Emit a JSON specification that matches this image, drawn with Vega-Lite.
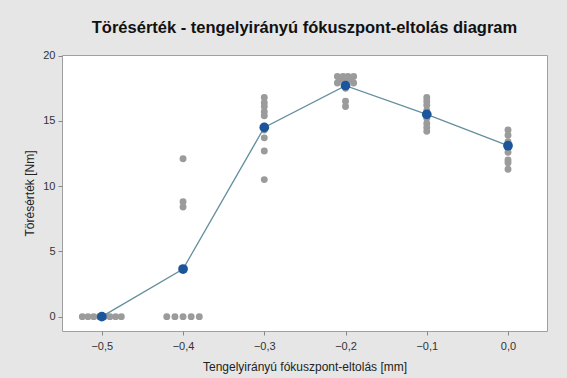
{
  "$schema": "https://vega.github.io/schema/vega-lite/v6.json",
  "width": 485,
  "height": 276,
  "autosize": {"type": "none"},
  "padding": {"left": 62, "top": 55, "right": 20, "bottom": 47},
  "background": "#e6e6e6",
  "title": {
    "text": "Törésérték - tengelyirányú fókuszpont-eltolás diagram",
    "font": "Liberation Sans",
    "fontSize": 16.5,
    "fontWeight": "bold",
    "color": "#111111",
    "anchor": "middle",
    "offset": 13
  },
  "config": {
    "view": {"stroke": "#a0a0a0", "strokeWidth": 1, "fill": "white"},
    "axis": {
      "labelFont": "Liberation Sans",
      "titleFont": "Liberation Sans",
      "labelFontSize": 11,
      "titleFontSize": 12,
      "titleFontWeight": "normal",
      "labelColor": "#333333",
      "titleColor": "#222222",
      "domain": false,
      "grid": false,
      "tickColor": "#888888",
      "tickSize": 4
    }
  },
  "datasets": {
    "pts": [
      {"x": -0.524, "y": 0}, {"x": -0.517, "y": 0}, {"x": -0.510, "y": 0}, {"x": -0.503, "y": 0},
      {"x": -0.497, "y": 0}, {"x": -0.490, "y": 0}, {"x": -0.483, "y": 0}, {"x": -0.476, "y": 0},
      {"x": -0.420, "y": 0}, {"x": -0.410, "y": 0}, {"x": -0.400, "y": 0}, {"x": -0.390, "y": 0}, {"x": -0.380, "y": 0},
      {"x": -0.4, "y": 12.1}, {"x": -0.4, "y": 8.8}, {"x": -0.4, "y": 8.4},
      {"x": -0.3, "y": 16.8}, {"x": -0.3, "y": 16.4}, {"x": -0.3, "y": 16.1}, {"x": -0.3, "y": 15.7},
      {"x": -0.3, "y": 15.4}, {"x": -0.3, "y": 14.6}, {"x": -0.3, "y": 14.3}, {"x": -0.3, "y": 13.7},
      {"x": -0.3, "y": 12.7}, {"x": -0.3, "y": 10.5},
      {"x": -0.210, "y": 18.4}, {"x": -0.203, "y": 18.4}, {"x": -0.197, "y": 18.4}, {"x": -0.190, "y": 18.4},
      {"x": -0.207, "y": 18.15}, {"x": -0.200, "y": 18.15}, {"x": -0.193, "y": 18.15},
      {"x": -0.210, "y": 17.9}, {"x": -0.190, "y": 17.9}, {"x": -0.2, "y": 17.5},
      {"x": -0.2, "y": 16.5}, {"x": -0.2, "y": 16.1},
      {"x": -0.1, "y": 16.8}, {"x": -0.1, "y": 16.5}, {"x": -0.1, "y": 16.2}, {"x": -0.1, "y": 15.8},
      {"x": -0.1, "y": 15.2}, {"x": -0.1, "y": 14.8}, {"x": -0.1, "y": 14.5}, {"x": -0.1, "y": 14.2},
      {"x": 0.0, "y": 14.3}, {"x": 0.0, "y": 13.9}, {"x": 0.0, "y": 13.4}, {"x": 0.0, "y": 12.6},
      {"x": 0.0, "y": 12.0}, {"x": 0.0, "y": 11.8}, {"x": 0.0, "y": 11.3}
    ],
    "means": [
      {"x": -0.5, "y": 0},
      {"x": -0.4, "y": 3.65},
      {"x": -0.3, "y": 14.5},
      {"x": -0.2, "y": 17.7},
      {"x": -0.1, "y": 15.5},
      {"x": 0.0, "y": 13.1}
    ]
  },
  "encoding": {
    "x": {
      "field": "x",
      "type": "quantitative",
      "scale": {"domain": [-0.549, 0.048], "nice": false, "zero": false},
      "axis": {
        "title": "Tengelyirányú fókuszpont-eltolás [mm]",
        "values": [-0.5, -0.4, -0.3, -0.2, -0.1, 0],
        "labelExpr": "replace(format(datum.value, '.1f'), '.', ',')",
        "labelPadding": 5,
        "titlePadding": 10
      }
    },
    "y": {
      "field": "y",
      "type": "quantitative",
      "scale": {"domain": [-1.1, 20.05], "nice": false, "zero": false},
      "axis": {
        "title": "Törésérték [Nm]",
        "values": [0, 5, 10, 15, 20],
        "labelPadding": 3,
        "titlePadding": 6
      }
    }
  },
  "layer": [
    {
      "data": {"name": "pts"},
      "mark": {"type": "circle", "size": 48, "color": "#9b9b9b", "opacity": 1}
    },
    {
      "data": {"name": "means"},
      "mark": {"type": "line", "color": "#648f9e", "strokeWidth": 1.3}
    },
    {
      "data": {"name": "means"},
      "mark": {"type": "circle", "size": 95, "color": "#1b559c", "opacity": 1}
    }
  ]
}
